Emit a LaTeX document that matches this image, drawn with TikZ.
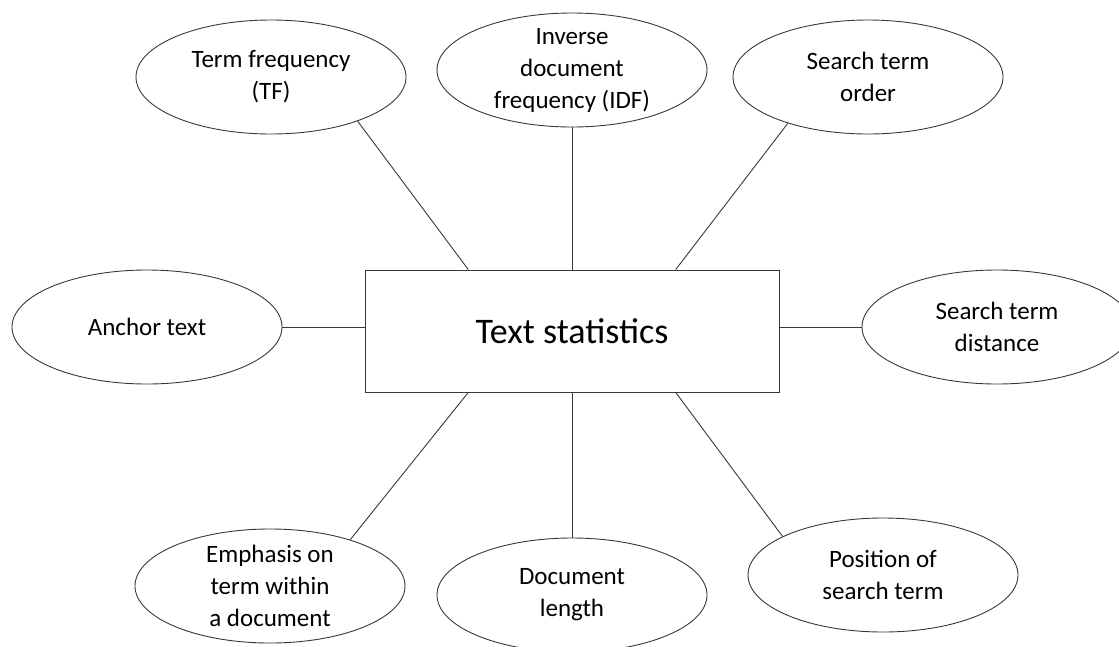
\documentclass[tikz,border=0pt]{standalone}
\usepackage{fontspec}
\setmainfont{Carlito}
\usetikzlibrary{shapes.geometric,calc}

\tikzset{
  outline/.style={draw=black!78, line width=0.9pt},
  bubble/.style={outline, ellipse, minimum width=270pt, minimum height=114pt, inner sep=0pt},
  bubbletext/.style={align=center, font=\fontsize{25}{32}\selectfont, inner sep=0pt, text=black},
  hub/.style={outline, rectangle, minimum width=414pt, minimum height=122pt, inner sep=0pt,
              font=\fontsize{36}{42}\selectfont},
  link/.style={draw=black!78, line width=0.9pt}
}

\begin{document}
\begin{tikzpicture}[x=1pt,y=-1pt]
\useasboundingbox (0,0) rectangle (1119,646);

% central statistic
\node[hub] (hub) at (572,331) {Text statistics};

% surrounding factors
\node[bubble, label={[bubbletext]center:Term frequency\\(TF)}] (tf) at (271,77) {};
\node[bubble, label={[bubbletext]center:Inverse\\document\\frequency (IDF)}] (idf) at (572,70) {};
\node[bubble, label={[bubbletext]center:Search term\\order}] (order) at (868,77) {};
\node[bubble, label={[bubbletext]center:Anchor text}] (anchor) at (147,327) {};
\node[bubble, label={[bubbletext]center:Search term\\distance}] (dist) at (997,327) {};
\node[bubble, label={[bubbletext]center:Emphasis on\\term within\\a document}] (emph) at (270,586) {};
\node[bubble, label={[bubbletext]center:Document\\length}] (len) at (572,595) {};
\node[bubble, label={[bubbletext]center:Position of\\search term}] (pos) at (883,575) {};

% attachment points along the box edges
\coordinate (hubNW) at ($(hub.north west)!0.25!(hub.north east)$);
\coordinate (hubNE) at ($(hub.north west)!0.75!(hub.north east)$);
\coordinate (hubSW) at ($(hub.south west)!0.25!(hub.south east)$);
\coordinate (hubSE) at ($(hub.south west)!0.75!(hub.south east)$);

% connectors
\draw[link] (tf.-27) -- (hubNW);
\draw[link] (idf.south) -- (idf.south |- hub.north);
\draw[link] (order.-150) -- (hubNE);
\draw[link] (anchor.east) -- (anchor.east -| hub.west);
\draw[link] (dist.west) -- (dist.west -| hub.east);
\draw[link] (emph.30) -- (hubSW);
\draw[link] (len.north) -- (len.north |- hub.south);
\draw[link] (pos.159) -- (hubSE);
\end{tikzpicture}
\end{document}
